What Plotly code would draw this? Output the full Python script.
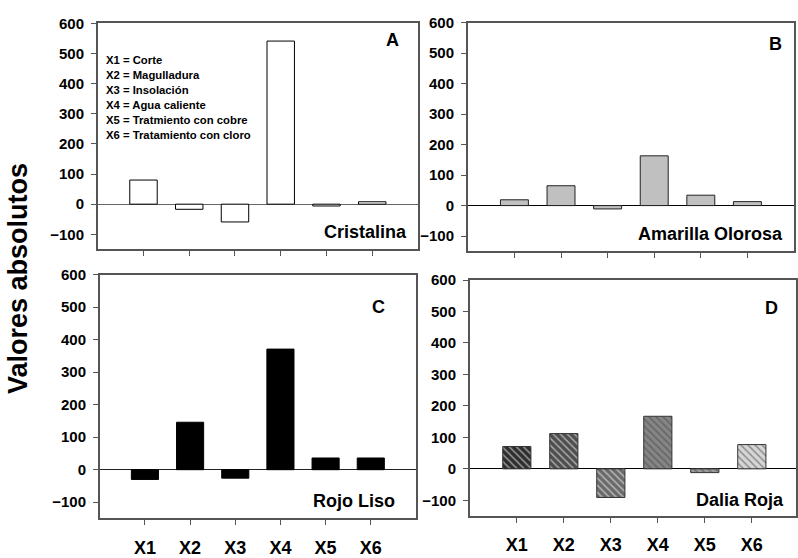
import plotly.graph_objects as go

categories = ["X1", "X2", "X3", "X4", "X5", "X6"]
cristalina = [80, -17, -59, 541, -6, 8]
amarilla = [19, 65, -11, 163, 34, 13]
rojo_liso = [-30, 146, -26, 371, 36, 36]
dalia_roja = [71, 112, -91, 167, -12, 77]
y_ticks = [-100, 0, 100, 200, 300, 400, 500, 600]
legend_lines = ["X1 = Corte", "X2 = Magulladura", "X3 = Insolación",
                "X4 = Agua caliente", "X5 = Tratmiento con cobre",
                "X6 = Tratamiento con cloro"]
d_colors = ["#2e2e2e", "#4e4e4e", "#6a6a6a", "#858585", "#9a9a9a", "#d6d6d6"]

W, H = 798, 558
FONT = "Arial, 'Liberation Sans', sans-serif"
xpos = list(range(1, len(categories) + 1))

fig = go.Figure()

def px_dom_x(a, b):
    return [a / W, min(b / W, 1)]

def px_dom_y(top, bottom):
    return [1 - bottom / H, 1 - top / H]

panels = [
    ("", cristalina, px_dom_x(98, 419), px_dom_y(14.7, 247.5), [0, 7], False, "#666666"),
    ("2", amarilla, px_dom_x(469, 796), px_dom_y(13.9, 249.5), [0, 7], False, "#000000"),
    ("3", rojo_liso, px_dom_x(100, 417), px_dom_y(273.5, 524.5), [0, 7], True, "#222222"),
    ("4", dalia_roja, px_dom_x(471, 798), px_dom_y(279, 522), [0, 6.94], True, "#000000"),
]

styles = [
    dict(color="white", line=dict(color="black", width=1)),
    dict(color="#c0c0c0", line=dict(color="#222222", width=1)),
    dict(color="black", line=dict(color="black", width=1)),
    dict(color=d_colors, line=dict(color="#333333", width=1),
         pattern=dict(shape="\\", fgcolor="#111111", bgcolor=d_colors,
                      size=5, solidity=0.3)),
]

for (suf, vals, xd, yd, xr, showlab, zc), st in zip(panels, styles):
    fig.add_trace(go.Bar(x=xpos, y=vals, width=0.6, marker=st,
                         xaxis="x" + suf, yaxis="y" + suf, showlegend=False))
    axis_common = dict(showline=True, linecolor="#555555", linewidth=1.5,
                       mirror=True, showgrid=False, ticks="outside",
                       tickcolor="#555555", ticklen=5, tickwidth=1)
    fig.layout["xaxis" + suf] = dict(
        domain=xd, range=xr, anchor="y" + suf, tickvals=xpos,
        ticktext=categories, showticklabels=showlab, zeroline=False,
        ticklabelstandoff=7,
        tickfont=dict(family=FONT, size=18, color="black", weight="bold"),
        **axis_common)
    fig.layout["yaxis" + suf] = dict(
        domain=yd, range=[-150, 600], anchor="x" + suf, tickvals=y_ticks,
        zeroline=True, zerolinecolor=zc, zerolinewidth=1.2,
        ticklabelstandoff=4,
        tickfont=dict(family=FONT, size=15, color="black", weight="bold"),
        **axis_common)

bold = dict(family=FONT, color="black")
ann = []
for txt, xr, yc, suf in [("A", 0.919, 0.925, ""), ("B", 0.942, 0.905, "2"),
                         ("C", 0.883, 0.867, "3"), ("D", 0.924, 0.88, "4")]:
    ann.append(dict(text="<b>%s</b>" % txt, xref="x%s domain" % suf,
                    yref="y%s domain" % suf, x=xr, y=yc, showarrow=False,
                    xanchor="center", yanchor="middle",
                    font=dict(size=18, **bold)))
for txt, xr, yc, suf in [("Cristalina", 0.972, 0.079, ""),
                         ("Amarilla Olorosa", 0.972, 0.074, "2"),
                         ("Rojo Liso", 0.94, 0.07, "3"),
                         ("Dalia Roja", 0.969, 0.066, "4")]:
    ann.append(dict(text="<b>%s</b>" % txt, xref="x%s domain" % suf,
                    yref="y%s domain" % suf, x=xr, y=yc, showarrow=False,
                    xanchor="right", yanchor="middle",
                    font=dict(size=18, **bold)))
for i, line in enumerate(legend_lines):
    ann.append(dict(text="<b>%s</b>" % line, xref="paper", yref="paper",
                    x=104 / W, y=1 - (52.7 + i * 15.5) / H, showarrow=False,
                    xanchor="left", yanchor="middle",
                    font=dict(size=11.3, **bold)))
ann.append(dict(text="<b>Valores absolutos</b>", xref="paper", yref="paper",
                x=18 / W, y=1 - 277 / H, showarrow=False, textangle=-90,
                xanchor="center", yanchor="middle",
                font=dict(size=27, **bold)))

fig.update_layout(width=W, height=H, margin=dict(l=0, r=0, t=0, b=0),
                  paper_bgcolor="white", plot_bgcolor="white",
                  annotations=ann, bargap=0.4)

fig.write_html("out.html", config={"displayModeBar": False},
               post_script="document.body.style.margin='0';"
                           "document.body.style.overflow='hidden';")
